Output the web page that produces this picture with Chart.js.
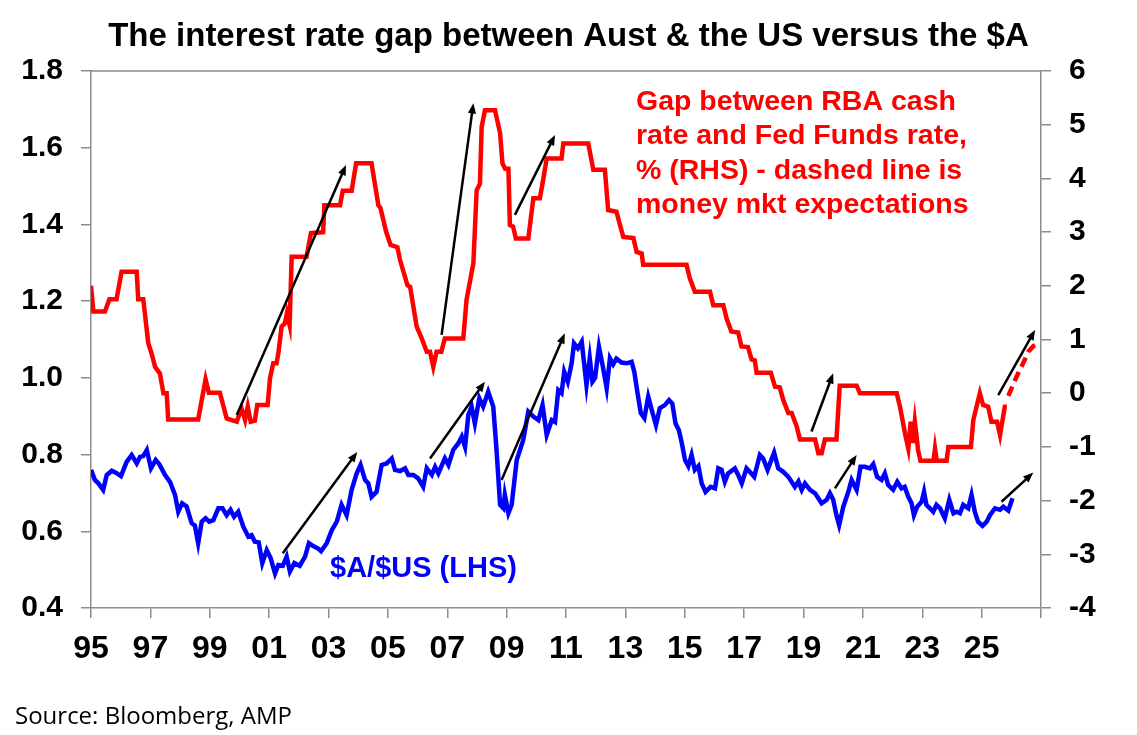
<!DOCTYPE html>
<html>
<head>
<meta charset="utf-8">
<script src="https://cdn.jsdelivr.net/npm/chart.js@4.4.1/dist/chart.umd.min.js"></script>
<style>
  body { margin: 0; background: #fff; }
  #wrap { width: 1137px; height: 735px; position: relative; }
</style>
</head>
<body>
<div id="wrap"><canvas id="chart"></canvas></div>
<script>
// RBA cash rate minus Fed Funds rate, % (RHS)
const gapYears = [
  1995.00, 1995.08, 1995.47, 1995.62, 1995.86, 1996.03, 1996.54, 1996.59, 1996.76, 1996.93,
  1997.04, 1997.16, 1997.32, 1997.44, 1997.55, 1997.60, 1998.61, 1998.86, 1998.97, 1999.34,
  1999.46, 1999.57, 1999.91, 2000.07, 2000.19, 2000.28, 2000.38, 2000.52, 2000.60, 2000.95,
  2001.03, 2001.14, 2001.25, 2001.31, 2001.42, 2001.53, 2001.60, 2001.69, 2001.76, 2002.26,
  2002.41, 2002.82, 2002.86, 2003.39, 2003.48, 2003.78, 2003.93, 2004.45, 2004.68, 2004.75,
  2004.94, 2005.09, 2005.32, 2005.41, 2005.66, 2005.75, 2005.97, 2006.14, 2006.31, 2006.42,
  2006.53, 2006.64, 2006.80, 2006.92, 2007.54, 2007.65, 2007.88, 2007.99, 2008.10, 2008.16,
  2008.27, 2008.61, 2008.78, 2008.86, 2008.95, 2009.06, 2009.11, 2009.22, 2009.31, 2009.73,
  2009.90, 2010.12, 2010.23, 2010.35, 2010.85, 2010.91, 2011.75, 2011.92, 2012.31, 2012.42,
  2012.70, 2012.82, 2012.93, 2013.27, 2013.38, 2013.55, 2013.60, 2015.06, 2015.17, 2015.34,
  2015.85, 2015.96, 2016.30, 2016.41, 2016.57, 2016.80, 2016.91, 2017.13, 2017.25, 2017.36,
  2017.42, 2017.90, 2018.04, 2018.20, 2018.32, 2018.49, 2018.60, 2018.77, 2018.88, 2019.39,
  2019.50, 2019.61, 2019.72, 2020.11, 2020.22, 2020.79, 2020.90, 2022.14, 2022.25, 2022.42,
  2022.53, 2022.61, 2022.68, 2022.75, 2022.86, 2022.94, 2023.38, 2023.43, 2023.49, 2023.82,
  2023.88, 2024.64, 2024.72, 2024.94, 2025.05, 2025.22, 2025.33, 2025.52, 2025.62, 2025.78,
  2025.85
];
const gapValues = [
  2.00, 1.52, 1.52, 1.75, 1.75, 2.26, 2.26, 1.75, 1.75, 0.93,
  0.74, 0.49, 0.37, 0.00, 0.00, -0.49, -0.49, 0.26, 0.01, 0.01,
  -0.24, -0.47, -0.53, -0.28, -0.50, -0.25, -0.53, -0.51, -0.22, -0.22,
  0.28, 0.56, 0.56, 0.74, 1.24, 1.30, 1.49, 1.27, 2.54, 2.54,
  2.98, 3.00, 3.50, 3.50, 3.77, 3.77, 4.28, 4.28, 3.50, 3.45,
  3.01, 2.76, 2.72, 2.48, 2.01, 1.98, 1.24, 1.02, 0.77, 0.77,
  0.49, 0.77, 0.77, 1.02, 1.02, 1.74, 2.42, 3.78, 3.90, 4.96,
  5.27, 5.27, 4.84, 4.28, 4.18, 4.18, 3.13, 3.10, 2.88, 2.88,
  3.63, 3.63, 3.97, 4.37, 4.37, 4.65, 4.65, 4.16, 4.16, 3.41,
  3.38, 3.13, 2.91, 2.89, 2.63, 2.60, 2.39, 2.39, 2.14, 1.89,
  1.89, 1.64, 1.64, 1.39, 1.15, 1.13, 0.87, 0.86, 0.63, 0.61,
  0.38, 0.38, 0.12, 0.11, -0.13, -0.37, -0.37, -0.62, -0.86, -0.86,
  -1.12, -1.12, -0.86, -0.86, 0.14, 0.14, 0.00, 0.00, -0.25, -0.75,
  -1.03, -0.53, -0.93, -0.53, -1.06, -1.26, -1.26, -1.03, -1.26, -1.26,
  -1.00, -1.00, -0.50, 0.00, -0.22, -0.25, -0.53, -0.53, -0.78, -0.25,
  -0.25
];

// money market expectations (dashed)
const expYears = [2025.90, 2026.18, 2026.40, 2026.57, 2026.75, 2026.95];
const expValues = [-0.05, 0.31, 0.56, 0.77, 0.88, 0.93];

// $A/$US (LHS)
const audYears = [
  1995.00, 1995.13, 1995.25, 1995.41, 1995.53, 1995.70, 1995.85, 1996.01, 1996.20, 1996.37,
  1996.54, 1996.65, 1996.76, 1996.88, 1997.02, 1997.18, 1997.30, 1997.49, 1997.66, 1997.83,
  1997.94, 1998.07, 1998.22, 1998.39, 1998.50, 1998.61, 1998.73, 1998.86, 1998.98, 1999.12,
  1999.29, 1999.43, 1999.57, 1999.70, 1999.82, 1999.96, 2000.13, 2000.30, 2000.41, 2000.52,
  2000.65, 2000.77, 2000.92, 2001.05, 2001.20, 2001.31, 2001.46, 2001.59, 2001.70, 2001.85,
  2002.03, 2002.21, 2002.34, 2002.47, 2002.65, 2002.75, 2002.94, 2003.11, 2003.28, 2003.44,
  2003.61, 2003.78, 2003.95, 2004.08, 2004.23, 2004.34, 2004.45, 2004.62, 2004.79, 2004.96,
  2005.13, 2005.24, 2005.41, 2005.58, 2005.69, 2005.86, 2006.02, 2006.19, 2006.31, 2006.48,
  2006.59, 2006.70, 2006.92, 2007.04, 2007.20, 2007.37, 2007.49, 2007.60, 2007.71, 2007.82,
  2007.93, 2008.08, 2008.21, 2008.38, 2008.55, 2008.66, 2008.78, 2008.89, 2008.94, 2009.06,
  2009.17, 2009.34, 2009.56, 2009.73, 2009.90, 2010.07, 2010.21, 2010.35, 2010.52, 2010.63,
  2010.74, 2010.85, 2010.94, 2011.06, 2011.19, 2011.27, 2011.40, 2011.53, 2011.69, 2011.80,
  2011.89, 2011.98, 2012.11, 2012.24, 2012.37, 2012.48, 2012.59, 2012.70, 2012.87, 2013.04,
  2013.21, 2013.30, 2013.41, 2013.52, 2013.64, 2013.77, 2013.89, 2014.03, 2014.16, 2014.33,
  2014.47, 2014.58, 2014.69, 2014.80, 2014.89, 2015.01, 2015.12, 2015.23, 2015.34, 2015.46,
  2015.57, 2015.70, 2015.87, 2016.02, 2016.13, 2016.24, 2016.35, 2016.46, 2016.69, 2016.80,
  2016.92, 2017.08, 2017.19, 2017.34, 2017.53, 2017.64, 2017.79, 2018.01, 2018.15, 2018.32,
  2018.49, 2018.71, 2018.83, 2018.94, 2019.05, 2019.22, 2019.39, 2019.50, 2019.61, 2019.78,
  2019.89, 2020.00, 2020.11, 2020.20, 2020.34, 2020.51, 2020.62, 2020.79, 2020.92, 2021.07,
  2021.24, 2021.35, 2021.48, 2021.63, 2021.74, 2021.85, 2022.02, 2022.16, 2022.30, 2022.41,
  2022.53, 2022.64, 2022.72, 2022.83, 2022.98, 2023.06, 2023.14, 2023.26, 2023.37, 2023.48,
  2023.60, 2023.76, 2023.91, 2024.05, 2024.16, 2024.27, 2024.38, 2024.55, 2024.66, 2024.77,
  2024.88, 2025.03, 2025.17, 2025.28, 2025.45, 2025.62, 2025.73, 2025.90, 2026.04
];
const audValues = [
  0.760, 0.734, 0.725, 0.708, 0.747, 0.758, 0.752, 0.744, 0.781, 0.799,
  0.777, 0.794, 0.796, 0.812, 0.764, 0.786, 0.775, 0.747, 0.729, 0.695,
  0.651, 0.673, 0.665, 0.621, 0.615, 0.569, 0.625, 0.634, 0.625, 0.629,
  0.660, 0.660, 0.642, 0.656, 0.638, 0.651, 0.612, 0.586, 0.590, 0.573,
  0.571, 0.517, 0.551, 0.530, 0.490, 0.512, 0.510, 0.534, 0.495, 0.517,
  0.510, 0.534, 0.569, 0.562, 0.555, 0.548, 0.569, 0.603, 0.625, 0.669,
  0.642, 0.708, 0.751, 0.773, 0.734, 0.725, 0.690, 0.703, 0.773, 0.777,
  0.790, 0.760, 0.757, 0.764, 0.747, 0.747, 0.738, 0.716, 0.764, 0.747,
  0.768, 0.751, 0.790, 0.773, 0.812, 0.829, 0.847, 0.820, 0.903, 0.925,
  0.881, 0.947, 0.925, 0.964, 0.925, 0.812, 0.669, 0.660, 0.695, 0.647,
  0.669, 0.786, 0.838, 0.912, 0.899, 0.890, 0.929, 0.851, 0.890, 0.885,
  0.968, 0.960, 1.016, 0.990, 1.038, 1.090, 1.077, 1.094, 0.981, 1.051,
  0.990, 1.000, 1.081, 1.030, 0.973, 1.051, 1.035, 1.050, 1.040, 1.038,
  1.042, 1.016, 0.960, 0.908, 0.895, 0.951, 0.916, 0.877, 0.921, 0.929,
  0.942, 0.933, 0.881, 0.864, 0.834, 0.786, 0.770, 0.799, 0.760, 0.770,
  0.725, 0.703, 0.716, 0.712, 0.764, 0.760, 0.729, 0.751, 0.764, 0.747,
  0.725, 0.764, 0.755, 0.742, 0.799, 0.790, 0.760, 0.805, 0.764, 0.755,
  0.742, 0.716, 0.730, 0.708, 0.725, 0.708, 0.699, 0.686, 0.673, 0.682,
  0.699, 0.682, 0.642, 0.616, 0.664, 0.703, 0.734, 0.708, 0.768, 0.768,
  0.764, 0.775, 0.742, 0.734, 0.751, 0.721, 0.708, 0.729, 0.712, 0.716,
  0.690, 0.673, 0.642, 0.664, 0.677, 0.703, 0.669, 0.660, 0.651, 0.669,
  0.660, 0.634, 0.682, 0.647, 0.651, 0.647, 0.669, 0.660, 0.695, 0.651,
  0.625, 0.614, 0.625, 0.642, 0.660, 0.656, 0.664, 0.654, 0.686
];

// black arrows: [fromYear, fromLHS, toYear, toLHS]
const arrows = [
  [1999.91, 0.903, 2003.59, 1.555],
  [2006.81, 1.112, 2007.88, 1.716],
  [2009.28, 1.425, 2010.63, 1.633],
  [2019.27, 0.860, 2020.00, 1.012],
  [2025.56, 0.955, 2026.80, 1.125],
  [2001.46, 0.543, 2003.97, 0.807],
  [2006.42, 0.790, 2008.27, 0.990],
  [2008.83, 0.734, 2010.96, 1.116],
  [2020.06, 0.712, 2020.79, 0.799],
  [2025.67, 0.677, 2026.74, 0.753],
];

const titleText = 'The interest rate gap between Aust & the US versus the $A';
const gapLabel = ['Gap between RBA cash', 'rate and Fed Funds rate,', '% (RHS) - dashed line is', 'money mkt expectations'];
const audLabel = '$A/$US (LHS)';
const sourceText = 'Source: Bloomberg, AMP';

const FONT = "'Liberation Sans', Arial, sans-serif";
const AXIS_GREY = '#8c8c8c';

const toPoints = (xs, ys) => xs.map((x, i) => ({ x: x, y: ys[i] }));

const extras = {
  id: 'extras',
  beforeDraw(chart) {
    const ctx = chart.ctx;
    ctx.save();
    ctx.fillStyle = '#fff';
    ctx.fillRect(0, 0, chart.width, chart.height);
    ctx.restore();
  },
  afterDatasetsDraw(chart) {
    const { ctx, scales } = chart;
    ctx.save();
    ctx.strokeStyle = '#000';
    ctx.fillStyle = '#000';
    ctx.lineWidth = 2.5;
    arrows.forEach(([x0, y0, x1, y1]) => {
      const px0 = scales.x.getPixelForValue(x0);
      const py0 = scales.y.getPixelForValue(y0);
      const px1 = scales.x.getPixelForValue(x1);
      const py1 = scales.y.getPixelForValue(y1);
      const ang = Math.atan2(py1 - py0, px1 - px0);
      const head = 11;
      ctx.beginPath();
      ctx.moveTo(px0, py0);
      ctx.lineTo(px1 - Math.cos(ang) * head * 0.8, py1 - Math.sin(ang) * head * 0.8);
      ctx.stroke();
      ctx.beginPath();
      ctx.moveTo(px1, py1);
      ctx.lineTo(px1 - head * Math.cos(ang - 0.38), py1 - head * Math.sin(ang - 0.38));
      ctx.lineTo(px1 - head * Math.cos(ang + 0.38), py1 - head * Math.sin(ang + 0.38));
      ctx.closePath();
      ctx.fill();
    });
    ctx.restore();
  },
  afterDraw(chart) {
    const { ctx, chartArea } = chart;
    ctx.save();
    // top edge of plot box
    ctx.strokeStyle = AXIS_GREY;
    ctx.lineWidth = 1.5;
    ctx.beginPath();
    ctx.moveTo(chartArea.left, chartArea.top);
    ctx.lineTo(chartArea.right, chartArea.top);
    ctx.stroke();

    ctx.textAlign = 'left';
    ctx.textBaseline = 'alphabetic';
    ctx.fillStyle = '#ff0000';
    ctx.font = 'bold 28.5px ' + FONT;
    gapLabel.forEach((line, i) => ctx.fillText(line, 636, 110 + i * 34.4));

    ctx.fillStyle = '#0000ff';
    ctx.font = 'bold 29px ' + FONT;
    ctx.fillText(audLabel, 330, 577);

    ctx.fillStyle = '#000';
    ctx.font = "24px 'Open Sans', sans-serif";
    ctx.fillText(sourceText, 15, 724);
    ctx.restore();
  },
};

const axisGrid = {
  display: true,
  drawOnChartArea: false,
  drawTicks: true,
  tickLength: 10,
  color: AXIS_GREY,
  lineWidth: 1.5,
};
const axisBorder = { display: true, color: AXIS_GREY, width: 1.5 };

new Chart(document.getElementById('chart'), {
  type: 'line',
  data: {
    datasets: [
      {
        label: 'gap',
        data: toPoints(gapYears, gapValues),
        yAxisID: 'y2',
        borderColor: '#ff0000',
        borderWidth: 4.5,
        pointRadius: 0,
        tension: 0,
      },
      {
        label: 'expectations',
        data: toPoints(expYears, expValues),
        yAxisID: 'y2',
        borderColor: '#ff0000',
        borderWidth: 4.5,
        borderDash: [10, 6],
        pointRadius: 0,
        tension: 0,
      },
      {
        label: 'aud',
        data: toPoints(audYears, audValues),
        yAxisID: 'y',
        borderColor: '#0000ff',
        borderWidth: 4.5,
        pointRadius: 0,
        tension: 0,
      },
    ],
  },
  options: {
    responsive: true,
    maintainAspectRatio: false,
    animation: false,
    layout: { padding: 0 },
    plugins: {
      legend: { display: false },
      tooltip: { enabled: false },
      title: {
        display: true,
        text: titleText,
        color: '#000',
        font: { family: FONT, size: 33, weight: 'bold' },
        padding: { top: 17, bottom: 14.4 },
      },
    },
    scales: {
      x: {
        type: 'linear',
        min: 1995,
        max: 2027,
        grid: axisGrid,
        border: axisBorder,
        afterFit: (scale) => { scale.height = 127; },
        ticks: {
          stepSize: 2,
          autoSkip: false,
          maxRotation: 0,
          padding: 12,
          color: '#000',
          font: { family: FONT, size: 32, weight: 'bold' },
          callback: (v) => (v >= 2027 ? '' : String(v).slice(2)),
        },
      },
      y: {
        position: 'left',
        min: 0.4,
        max: 1.8,
        grid: axisGrid,
        border: axisBorder,
        afterFit: (scale) => { scale.width = 91; },
        ticks: {
          stepSize: 0.2,
          padding: 18,
          color: '#000',
          font: { family: FONT, size: 30, weight: 'bold' },
          callback: (v) => Number(v).toFixed(1),
        },
      },
      y2: {
        position: 'right',
        min: -4,
        max: 6,
        grid: axisGrid,
        border: axisBorder,
        afterFit: (scale) => { scale.width = 96; },
        ticks: {
          stepSize: 1,
          padding: 18,
          color: '#000',
          font: { family: FONT, size: 30, weight: 'bold' },
        },
      },
    },
  },
  plugins: [extras],
});
</script>
</body>
</html>
